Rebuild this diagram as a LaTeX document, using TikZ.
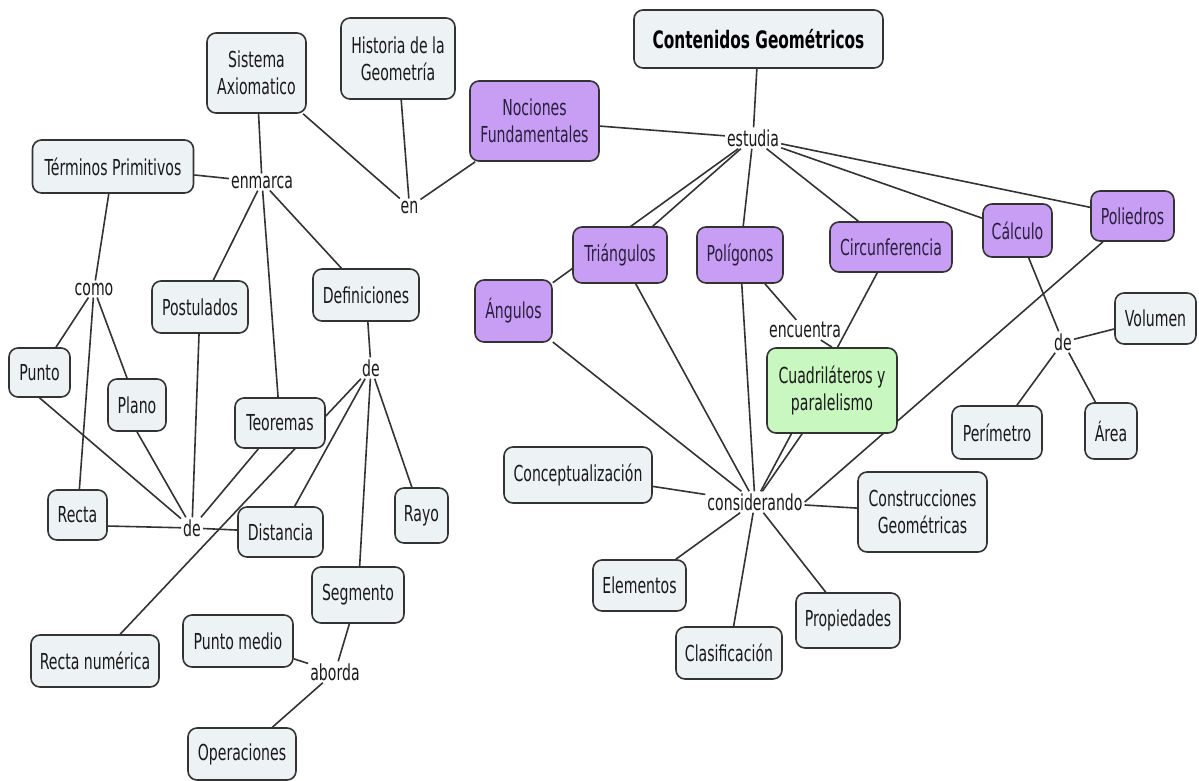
\documentclass[tikz,border=0pt]{standalone}
\usepackage{fontspec}
\setmainfont{DejaVu Sans}[FakeStretch=0.64]
\usetikzlibrary{backgrounds}
\definecolor{boxfill}{HTML}{EDF2F4}
\definecolor{purplefill}{HTML}{C89EF5}
\definecolor{greenfill}{HTML}{C8F7C0}
\definecolor{edgecol}{HTML}{333333}
\definecolor{ink}{HTML}{1A1A1A}
\definecolor{purpleink}{HTML}{2A1F3D}
\begin{document}
\begin{tikzpicture}[x=1pt,y=-1pt,
  concept/.style={draw=edgecol, line width=1.6pt, rounded corners=9pt, fill=boxfill,
    text=ink, inner xsep=8pt, inner ysep=4pt, align=center,
    font=\fontsize{22}{27}\selectfont},
  sz/.style 2 args={minimum width=#1pt, minimum height=#2pt},
  purplebox/.style={concept, fill=purplefill, text=purpleink},
  greenbox/.style={concept, fill=greenfill},
  link/.style={inner sep=2pt, text=ink, font=\fontsize{22}{27}\selectfont},
  conn/.style={draw=edgecol, line width=1.6pt}
]
\useasboundingbox (0,0) rectangle (1199,780);

% ---------- concepts: left cluster ----------
\node[concept, sz={99}{80}]  (sa)    at (256.5,73)  {Sistema\\Axiomatico};
\node[concept, sz={114}{81}] (hist)  at (398,58.5)  {Historia de la\\Geometría};
\node[purplebox, sz={129}{80}] (nf)  at (534.5,121) {Nociones\\Fundamentales};
\node[concept, sz={161}{53}] (tp)    at (113,166.5) {Términos Primitivos};
\node[concept, sz={96}{52}]  (post)  at (200,307)   {Postulados};
\node[concept, sz={106}{52}] (def)   at (366,295)   {Definiciones};
\node[concept, sz={61}{49}]  (punto) at (39.5,372.5){Punto};
\node[concept, sz={58}{52}]  (plano) at (137,405)   {Plano};
\node[concept, sz={90}{50}]  (teo)   at (280,423)   {Teoremas};
\node[concept, sz={59}{50}]  (recta) at (77.5,515)  {Recta};
\node[concept, sz={85}{50}]  (dist)  at (280.5,532) {Distancia};
\node[concept, sz={53}{55}]  (rayo)  at (421.5,515.5){Rayo};
\node[concept, sz={92}{56}]  (seg)   at (358,595)   {Segmento};
\node[concept, sz={110}{52}] (pm)    at (238,641)   {Punto medio};
\node[concept, sz={128}{52}] (rn)    at (95,661)    {Recta numérica};
\node[concept, sz={108}{52}] (op)    at (242,754)   {Operaciones};

% ---------- concepts: right cluster ----------
\node[concept, sz={249}{58}, font=\fontsize{24}{28}\selectfont\bfseries, text=black]
      (cg) at (758.5,39) {Contenidos Geométricos};
\node[purplebox, sz={83}{50}]  (poli)  at (1132.5,216) {Poliedros};
\node[purplebox, sz={69}{53}]  (calc)  at (1017.5,230.5){Cálculo};
\node[purplebox, sz={122}{50}] (circ)  at (891,247)    {Circunferencia};
\node[purplebox, sz={86}{56}]  (pol)   at (740,255)    {Polígonos};
\node[purplebox, sz={94}{56}]  (tri)   at (620,255)    {Triángulos};
\node[purplebox, sz={77}{62}]  (ang)   at (513.5,311)  {Ángulos};
\node[greenbox, sz={130}{85}]  (cuad)  at (832,390.5)  {Cuadriláteros y\\paralelismo};
\node[concept, sz={148}{56}]   (conc)  at (578,475)    {Conceptualización};
\node[concept, sz={93}{51}]    (elem)  at (639.5,585.5){Elementos};
\node[concept, sz={106}{52}]   (clas)  at (729,653)    {Clasificación};
\node[concept, sz={104}{55}]   (prop)  at (848,620.5)  {Propiedades};
\node[concept, sz={129}{80}]   (cons)  at (922.5,512)  {Construcciones\\Geométricas};
\node[concept, sz={81}{51}]    (vol)   at (1155.5,318.5){Volumen};
\node[concept, sz={90}{53}]    (perim) at (997,432.5)  {Perímetro};
\node[concept, sz={52}{56}]    (area)  at (1111,431)   {Área};

% ---------- linking phrases ----------
\node[link] (enm)  at (262,182)   {enmarca};
\node[link] (en)   at (409.5,207) {en};
\node[link] (est)  at (753,138)   {estudia};
\node[link] (como) at (94,289)    {como};
\node[link] (deA)  at (192,528)   {de};
\node[link] (deB)  at (371,368)   {de};
\node[link] (abo)  at (335,672)   {aborda};
\node[link] (enc)  at (805,330)   {encuentra};
\node[link] (csd)  at (755,502)   {considerando};
\node[link] (deC)  at (1063,342)  {de};

% ---------- connectors (under the boxes) ----------
\begin{scope}[on background layer]
\fill[white] (0,0) rectangle (1199,780);
% left cluster
\draw[conn] (sa) -- (enm);
\draw[conn] (tp) -- (enm);
\draw[conn] (enm) -- (post);
\draw[conn] (enm) -- (teo);
\draw[conn] (enm) -- (def);
\draw[conn] (sa) -- (en);
\draw[conn] (hist) -- (en);
\draw[conn] (en) -- (nf);
\draw[conn] (tp) -- (como);
\draw[conn] (como) -- (punto);
\draw[conn] (como) -- (plano);
\draw[conn] (como) -- (recta);
\draw[conn] (punto.south) -- (deA);
\draw[conn] (plano.south) -- (deA);
\draw[conn] (post) -- (deA);
\draw[conn] (recta.-20) -- (deA);
\draw[conn] (teo) -- (deA);
\draw[conn] (deA) -- (dist);
\draw[conn] (def) -- (deB);
\draw[conn] (deB) -- (rn);
\draw[conn] (deB) -- (dist);
\draw[conn] (deB) -- (seg);
\draw[conn] (deB) -- (rayo);
\draw[conn] (seg) -- (abo);
\draw[conn] (pm) -- (abo);
\draw[conn] (abo) -- (op);
% right cluster
\draw[conn] (nf) -- (est);
\draw[conn] (cg) -- (est);
\draw[conn] (est) -- (tri);
\draw[conn] (est) -- (ang);
\draw[conn] (est) -- (pol);
\draw[conn] (est) -- (circ);
\draw[conn] (est) -- (calc);
\draw[conn] (est) -- (poli);
\draw[conn] (pol) -- (enc);
\draw[conn] (enc) -- (cuad.north);
\draw[conn] (ang) -- (csd);
\draw[conn] (tri) -- (csd);
\draw[conn] (pol) -- (csd);
\draw[conn] (cuad) -- (csd);
\draw[conn] (circ) -- (csd);
\draw[conn] (csd.east) -- (poli);
\draw[conn] (conc) -- (csd);
\draw[conn] (elem) -- (csd);
\draw[conn] (clas) -- (csd);
\draw[conn] (prop) -- (csd);
\draw[conn] (cons) -- (csd);
\draw[conn] (calc) -- (deC);
\draw[conn] (deC) -- (vol);
\draw[conn] (deC) -- (perim);
\draw[conn] (deC) -- (area);
\end{scope}
\end{tikzpicture}
\end{document}
